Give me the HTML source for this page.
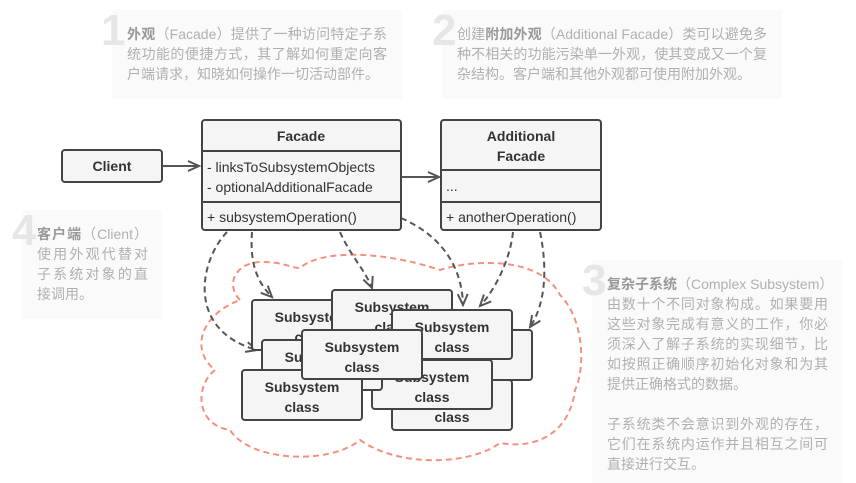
<!DOCTYPE html>
<html><head><meta charset="utf-8"><style>
body{margin:0;width:856px;height:483px;background:#fff;position:relative;overflow:hidden;font-family:"Liberation Sans","Noto Sans CJK SC",sans-serif}
.bg{position:absolute;background:#fafafa}
.num{position:absolute;font-size:44px;font-weight:bold;color:#e6e6e6;line-height:44px}
.tx{position:absolute;color:#b0b0b0;font-size:14px;line-height:20px}
.tx b{color:#999}
.tx div{text-align:justify;text-align-last:justify;white-space:nowrap}
.tx div.l{text-align-last:left}
</style></head><body>
<div class="bg" style="left:112px;top:10px;width:290px;height:89px"></div>
<div class="num" style="left:101px;top:9px">1</div>
<div class="tx" style="left:127px;top:24px;width:260px"><div><b>外观</b>（Facade）提供了一种访问特定子系</div><div>统功能的便捷方式，其了解如何重定向客</div><div class="l">户端请求，知晓如何操作一切活动部件。</div></div>

<div class="bg" style="left:442px;top:10px;width:340px;height:89px"></div>
<div class="num" style="left:432px;top:9px">2</div>
<div class="tx" style="left:457px;top:24px;width:310px"><div>创建<b>附加外观</b>（Additional Facade）类可以避免多</div><div>种不相关的功能污染单一外观，使其变成又一个复</div><div class="l">杂结构。客户端和其他外观都可使用附加外观。</div></div>

<div class="bg" style="left:22px;top:210px;width:140px;height:109px"></div>
<div class="num" style="left:12px;top:209px">4</div>
<div class="tx" style="left:37px;top:224px;width:111px"><div><b>客户端</b>（Client）</div><div>使用外观代替对</div><div>子系统对象的直</div><div class="l">接调用。</div></div>

<div class="bg" style="left:592px;top:260px;width:250px;height:223px"></div>
<div class="num" style="left:582px;top:259px">3</div>
<div class="tx" style="left:607px;top:274px;width:221px"><div><b>复杂子系统</b>（Complex Subsystem）</div><div>由数十个不同对象构成。如果要用</div><div>这些对象完成有意义的工作，你必</div><div>须深入了解子系统的实现细节，比</div><div>如按照正确顺序初始化对象和为其</div><div class="l">提供正确格式的数据。</div><div class="l">&nbsp;</div><div>子系统类不会意识到外观的存在，</div><div>它们在系统内运作并且相互之间可</div><div class="l">直接进行交互。</div></div>

<svg width="856" height="483" style="position:absolute;left:0;top:0" font-family="Liberation Sans, sans-serif">
<defs><marker id="a" markerWidth="14" markerHeight="12" refX="12" refY="6" orient="auto" markerUnits="userSpaceOnUse"><path d="M1,1 L12,6 L1,11" fill="none" stroke="#555" stroke-width="2"/></marker></defs>
<path d="M240,300 C225,285 235,262 262,262 C285,262 290,268 300,268 C320,250 380,250 440,270 C470,260 540,255 560,295 C585,320 585,370 575,390 C570,430 540,450 500,443 C470,465 400,468 360,440 C330,465 250,462 230,430 C195,425 195,385 215,370 C190,350 200,315 240,300 Z" fill="none" stroke="#f4907e" stroke-width="2" stroke-dasharray="6,4"/>
<g fill="none" stroke="#555" stroke-width="2" stroke-dasharray="6,4" marker-end="url(#a)">
<path d="M227,232 C200,260 185,330 257,350"/>
<path d="M252,232 C250,260 255,280 272,297"/>
<path d="M340,232 C350,255 365,270 372,288"/>
<path d="M401,218 C440,235 462,265 463,305"/>
<path d="M513,232 C510,260 495,290 480,306"/>
<path d="M540,232 C548,270 545,305 530,327"/>
</g>
<g stroke="#555" stroke-width="2" fill="none" marker-end="url(#a)">
<line x1="162" y1="166" x2="199" y2="166"/>
<line x1="401" y1="177" x2="439" y2="177"/>
</g>
<g stroke="#444" stroke-width="2" fill="#f5f5f5">
<rect x="62" y="150" width="100" height="32" rx="3"/>
<rect x="202" y="120" width="199" height="110" rx="3"/>
<line x1="202" y1="151" x2="401" y2="151"/><line x1="202" y1="202" x2="401" y2="202"/>
<rect x="441" y="120" width="160" height="110" rx="3"/>
<line x1="441" y1="170" x2="601" y2="170"/><line x1="441" y1="202" x2="601" y2="202"/>
</g>
<g fill="#333" font-size="14">
<text x="112" y="171" text-anchor="middle" font-weight="bold">Client</text>
<text x="301" y="141" text-anchor="middle" font-weight="bold">Facade</text>
<text x="207" y="172">- linksToSubsystemObjects</text>
<text x="207" y="192">- optionalAdditionalFacade</text>
<text x="207" y="222">+ subsystemOperation()</text>
<text x="521" y="141" text-anchor="middle" font-weight="bold">Additional</text>
<text x="521" y="161" text-anchor="middle" font-weight="bold">Facade</text>
<text x="446" y="191">...</text>
<text x="446" y="222">+ anotherOperation()</text>
</g>
<g font-size="14" font-weight="bold" fill="#333" text-anchor="middle">
<g transform="translate(252,300)"><rect width="120" height="50" rx="3" fill="#f5f5f5" stroke="#444" stroke-width="2"/><text x="60" y="22">Subsystem</text><text x="60" y="42">class</text></g>
<g transform="translate(332,290)"><rect width="120" height="50" rx="3" fill="#f5f5f5" stroke="#444" stroke-width="2"/><text x="60" y="22">Subsystem</text><text x="60" y="42">class</text></g>
<g transform="translate(412,330)"><rect width="120" height="50" rx="3" fill="#f5f5f5" stroke="#444" stroke-width="2"/><text x="60" y="22">Subsystem</text><text x="60" y="42">class</text></g>
<g transform="translate(392,310)"><rect width="120" height="49" rx="3" fill="#f5f5f5" stroke="#444" stroke-width="2"/><text x="60" y="22">Subsystem</text><text x="60" y="42">class</text></g>
<g transform="translate(392,380)"><rect width="120" height="50" rx="3" fill="#f5f5f5" stroke="#444" stroke-width="2"/><text x="60" y="22">Subsystem</text><text x="60" y="42">class</text></g>
<g transform="translate(372,360)"><rect width="120" height="49" rx="3" fill="#f5f5f5" stroke="#444" stroke-width="2"/><text x="60" y="22">Subsystem</text><text x="60" y="42">class</text></g>
<g transform="translate(262,340)"><rect width="120" height="50" rx="3" fill="#f5f5f5" stroke="#444" stroke-width="2"/><text x="60" y="22">Subsystem</text><text x="60" y="42">class</text></g>
<g transform="translate(242,370)"><rect width="120" height="50" rx="3" fill="#f5f5f5" stroke="#444" stroke-width="2"/><text x="60" y="22">Subsystem</text><text x="60" y="42">class</text></g>
<g transform="translate(302,330)"><rect width="120" height="49" rx="3" fill="#f5f5f5" stroke="#444" stroke-width="2"/><text x="60" y="22">Subsystem</text><text x="60" y="42">class</text></g>
</g>
</svg>
</body></html>
